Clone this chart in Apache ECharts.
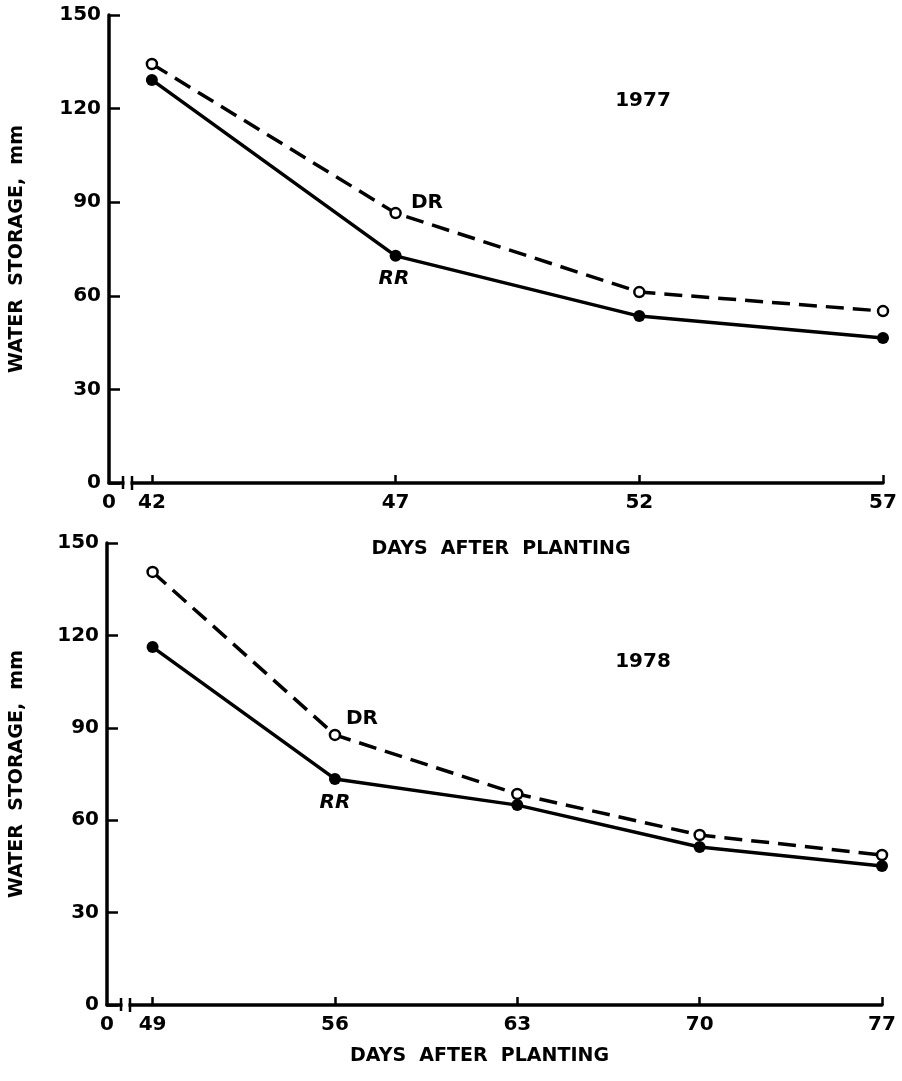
<!DOCTYPE html>
<html>
<head>
<meta charset="utf-8">
<script src="https://cdn.jsdelivr.net/npm/echarts@6/dist/echarts.min.js"></script>
<style>
html,body{margin:0;padding:0;background:#fff;}
#chart{width:902px;height:1081px;}
</style>
</head>
<body>
<div id="chart"></div>
<script>
// ---- data ----
const days1977 = [42, 47, 52, 57];
const dr1977 = [134.3, 86.5, 61.2, 55.1];
const rr1977 = [129.2, 72.8, 53.5, 46.5];
const days1978 = [49, 56, 63, 70, 77];
const dr1978 = [140.6, 87.7, 68.5, 55.2, 48.7];
const rr1978 = [116.2, 73.4, 64.9, 51.3, 45.1];
const yTicks = [0, 30, 60, 90, 120, 150];
const xName = 'DAYS  AFTER  PLANTING';
const yName = 'WATER  STORAGE,  mm';

const FONT = 'DejaVu Sans';
const INK = '#000';
const W = 'bold';

const chart = echarts.init(document.getElementById('chart'), null, {renderer: 'canvas'});

function pairs(xs, ys) { return xs.map((x, i) => [x, ys[i]]); }

function xAxis(grid, min, max, ticks, nameGap, namePad) {
  return {
    type: 'value', gridIndex: grid, min: min, max: max,
    name: xName, nameLocation: 'middle', nameGap: nameGap,
    nameTextStyle: {fontFamily: FONT, fontSize: 19, fontWeight: W, color: INK, padding: namePad},
    axisLine: {show: true, lineStyle: {color: INK, width: 3.5}},
    axisTick: {show: true, inside: true, length: 8, customValues: ticks, lineStyle: {color: INK, width: 2.5}},
    axisLabel: {show: true, customValues: [min].concat(ticks), margin: 10,
      fontFamily: FONT, fontSize: 20, fontWeight: W, color: INK,
      formatter: v => (v < ticks[0] - 0.3 ? '0' : String(Math.round(v)))},
    splitLine: {show: false}
  };
}
function yAxis(grid, nameGap) {
  return {
    type: 'value', gridIndex: grid, min: yTicks[0], max: yTicks[yTicks.length - 1], interval: 30,
    name: yName, nameLocation: 'middle', nameGap: nameGap, nameRotate: 90,
    nameTextStyle: {fontFamily: FONT, fontSize: 19, fontWeight: W, color: INK},
    axisLine: {show: true, lineStyle: {color: INK, width: 3.5}},
    axisTick: {show: true, inside: true, length: 11, lineStyle: {color: INK, width: 2.5}},
    axisLabel: {margin: 8, fontFamily: FONT, fontSize: 20, fontWeight: W, color: INK},
    splitLine: {show: false}
  };
}
function drSeries(idx, data) {
  return {
    type: 'line', xAxisIndex: idx, yAxisIndex: idx, data: data,
    symbol: 'circle', symbolSize: 10, showAllSymbol: true,
    lineStyle: {color: INK, width: 3.5, type: [18, 9]},
    itemStyle: {color: '#fff', borderColor: INK, borderWidth: 2.5},
    z: 3, animation: false, silent: true
  };
}
function rrSeries(idx, data) {
  return {
    type: 'line', xAxisIndex: idx, yAxisIndex: idx, data: data,
    symbol: 'circle', symbolSize: 12, showAllSymbol: true,
    lineStyle: {color: INK, width: 3.5, type: 'solid'},
    itemStyle: {color: INK, borderColor: INK, borderWidth: 0},
    z: 2, animation: false, silent: true
  };
}

const min1 = 41.12, min2 = 47.25;
chart.setOption({
  backgroundColor: '#fff',
  animation: false,
  grid: [
    {left: 108, right: 19, top: 15, height: 468, containLabel: false},
    {left: 102, right: 20, top: 543, height: 462, containLabel: false}
  ],
  xAxis: [
    xAxis(0, min1, 57, days1977, 57, [0, 0, 0, 10]),
    xAxis(1, min2, 77, days1978, 42, [0, 30, 0, 0])
  ],
  yAxis: [yAxis(0, 82), yAxis(1, 80)],
  series: [
    drSeries(0, pairs(days1977, dr1977)),
    rrSeries(0, pairs(days1977, rr1977)),
    drSeries(1, pairs(days1978, dr1978)),
    rrSeries(1, pairs(days1978, rr1978))
  ]
});

// axis breaks and annotations
function breakMark(gi, xmin) {
  const o = chart.convertToPixel({xAxisIndex: gi, yAxisIndex: gi}, [xmin, 0]);
  const a = o[0] + 14, b = o[0] + 23, y = o[1];
  return [
    {type: 'rect', shape: {x: a + 1.5, y: y - 3, width: b - a - 3, height: 6}, style: {fill: '#fff'}, z: 100},
    {type: 'line', shape: {x1: a, y1: y - 7, x2: a, y2: y + 6}, style: {stroke: INK, lineWidth: 2.5}, z: 101},
    {type: 'line', shape: {x1: b, y1: y - 7, x2: b, y2: y + 7}, style: {stroke: INK, lineWidth: 2.5}, z: 101}
  ];
}
function txt(x, y, s, italic) {
  return {type: 'text', x: x, y: y, z: 50,
    style: {text: s, fontFamily: FONT, fontSize: 20, fontWeight: W, fill: INK, align: 'center', verticalAlign: 'middle',
      fontStyle: italic ? 'italic' : 'normal'}};
}
chart.setOption({
  graphic: [].concat(
    breakMark(0, min1),
    breakMark(1, min2),
    [
      txt(643, 101, '1977'),
      txt(427, 203, 'DR'),
      txt(394, 279, 'RR', true),
      txt(643, 662, '1978'),
      txt(362, 719, 'DR'),
      txt(335, 803, 'RR', true)
    ]
  )
});
</script>
</body>
</html>
